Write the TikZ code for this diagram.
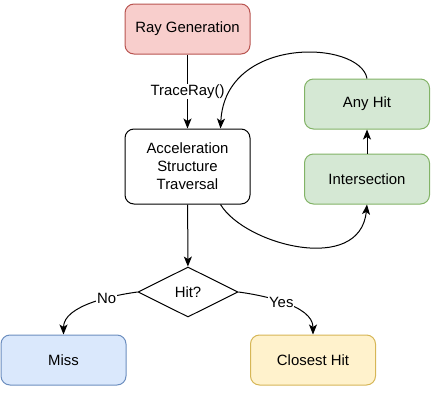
\documentclass[tikz,border=0pt]{standalone}
\usepackage{fontspec}
\setmainfont{Liberation Sans}
\usetikzlibrary{arrows.meta,shapes.geometric}
\definecolor{redfill}{HTML}{F8CECC}\definecolor{redline}{HTML}{B85450}
\definecolor{greenfill}{HTML}{D5E8D4}\definecolor{greenline}{HTML}{82B366}
\definecolor{bluefill}{HTML}{DAE8FC}\definecolor{blueline}{HTML}{6C8EBF}
\definecolor{yellowfill}{HTML}{FFF2CC}\definecolor{yellowline}{HTML}{D6B656}

\begin{document}
\begin{tikzpicture}[x=1pt,y=-1pt,line width=1pt,
    font=\fontsize{14.9}{18}\selectfont,
    box/.style={draw,rounded corners=9pt,minimum width=125pt,minimum height=50pt,align=center},
    arr/.style={-{Stealth[length=10pt,width=8pt,inset=2.5pt]}},
    lbl/.style={fill=white,inner sep=1pt}]
  \useasboundingbox (0,0) rectangle (448,405);
  \node[box,draw=redline,fill=redfill] (raygen) at (187.5,29) {Ray Generation};
  \node[box,minimum height=75pt] (traverse) at (187.5,166.5) {Acceleration\\Structure\\Traversal};
  \node[box,draw=greenline,fill=greenfill] (anyhit) at (367,104) {Any Hit};
  \node[box,draw=greenline,fill=greenfill] (isect) at (367,179) {Intersection};
  \node[draw,diamond,aspect=2,minimum width=100pt,minimum height=50pt,inner sep=0pt] (hit) at (188,292) {Hit?};
  \node[box,draw=blueline,fill=bluefill] (miss) at (63.5,360) {Miss};
  \node[box,draw=yellowline,fill=yellowfill] (closest) at (313,360) {Closest Hit};
  % edges
  \draw[arr] (raygen) -- node[lbl] {TraceRay()} (traverse);
  \draw[arr] (anyhit.north) .. controls (360,40) and (225,35) .. ([xshift=-30pt]traverse.north east);
  \draw[arr] ([xshift=-30pt]traverse.south east) .. controls (245,245) and (360,275) .. (isect.south);
  \draw[arr] (isect) -- (anyhit);
  \draw[arr] (traverse) -- (hit);
  \draw[arr] (hit.west) .. controls (115,295) and (63.5,305) .. node[lbl,pos=0.35] {No} (miss.north);
  \draw[arr] (hit.east) .. controls (261,295) and (313,305) .. node[lbl,pos=0.47] {Yes} (closest.north);
\end{tikzpicture}
\end{document}
